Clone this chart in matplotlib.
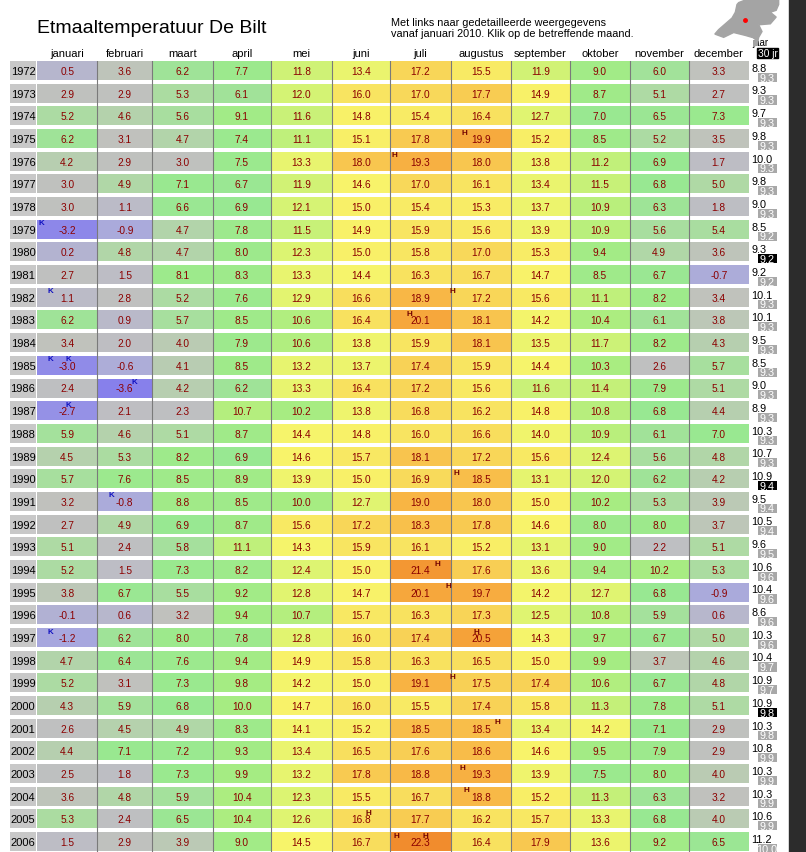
import numpy as np
import matplotlib
matplotlib.use("Agg")
import matplotlib.pyplot as plt
from matplotlib.colors import LinearSegmentedColormap, Normalize
from matplotlib.patches import Rectangle, Polygon

plt.rcParams['font.family'] = ['Liberation Sans Narrow', 'Liberation Sans', 'DejaVu Sans']

years = list(range(1972, 2007))
maanden = ["januari", "februari", "maart", "april", "mei", "juni", "juli",
           "augustus", "september", "oktober", "november", "december"]
dagen = [31, 28, 31, 30, 31, 30, 31, 31, 30, 31, 30, 31]

# maandgemiddelden per maand, 1972..2006
jan = [0.5, 2.9, 5.2, 6.2, 4.2, 3.0, 3.0, -3.2, 0.2, 2.7, 1.1, 6.2, 3.4, -3.0, 2.4, -2.7, 5.9, 4.5,
       5.7, 3.2, 2.7, 5.1, 5.2, 3.8, -0.1, -1.2, 4.7, 5.2, 4.3, 2.6, 4.4, 2.5, 3.6, 5.3, 1.5]
feb = [3.6, 2.9, 4.6, 3.1, 2.9, 4.9, 1.1, -0.9, 4.8, 1.5, 2.8, 0.9, 2.0, -0.6, -3.6, 2.1, 4.6, 5.3,
       7.6, -0.8, 4.9, 2.4, 1.5, 6.7, 0.6, 6.2, 6.4, 3.1, 5.9, 4.5, 7.1, 1.8, 4.8, 2.4, 2.9]
mrt = [6.2, 5.3, 5.6, 4.7, 3.0, 7.1, 6.6, 4.7, 4.7, 8.1, 5.2, 5.7, 4.0, 4.1, 4.2, 2.3, 5.1, 8.2,
       8.5, 8.8, 6.9, 5.8, 7.3, 5.5, 3.2, 8.0, 7.6, 7.3, 6.8, 4.9, 7.2, 7.3, 5.9, 6.5, 3.9]
apr = [7.7, 6.1, 9.1, 7.4, 7.5, 6.7, 6.9, 7.8, 8.0, 8.3, 7.6, 8.5, 7.9, 8.5, 6.2, 10.7, 8.7, 6.9,
       8.9, 8.5, 8.7, 11.1, 8.2, 9.2, 9.4, 7.8, 9.4, 9.8, 10.0, 8.3, 9.3, 9.9, 10.4, 10.4, 9.0]
mei = [11.8, 12.0, 11.6, 11.1, 13.3, 11.9, 12.1, 11.5, 12.3, 13.3, 12.9, 10.6, 10.6, 13.2, 13.3, 10.2, 14.4, 14.6,
       13.9, 10.0, 15.6, 14.3, 12.4, 12.8, 10.7, 12.8, 14.9, 14.2, 14.7, 14.1, 13.4, 13.2, 12.3, 12.6, 14.5]
jun = [13.4, 16.0, 14.8, 15.1, 18.0, 14.6, 15.0, 14.9, 15.0, 14.4, 16.6, 16.4, 13.8, 13.7, 16.4, 13.8, 14.8, 15.7,
       15.0, 12.7, 17.2, 15.9, 15.0, 14.7, 15.7, 16.0, 15.8, 15.0, 16.0, 15.2, 16.5, 17.8, 15.5, 16.8, 16.7]
jul = [17.2, 17.0, 15.4, 17.8, 19.3, 17.0, 15.4, 15.9, 15.8, 16.3, 18.9, 20.1, 15.9, 17.4, 17.2, 16.8, 16.0, 18.1,
       16.9, 19.0, 18.3, 16.1, 21.4, 20.1, 16.3, 17.4, 16.3, 19.1, 15.5, 18.5, 17.6, 18.8, 16.7, 17.7, 22.3]
aug = [15.5, 17.7, 16.4, 19.9, 18.0, 16.1, 15.3, 15.6, 17.0, 16.7, 17.2, 18.1, 18.1, 15.9, 15.6, 16.2, 16.6, 17.2,
       18.5, 18.0, 17.8, 15.2, 17.6, 19.7, 17.3, 20.5, 16.5, 17.5, 17.4, 18.5, 18.6, 19.3, 18.8, 16.2, 16.4]
sep = [11.9, 14.9, 12.7, 15.2, 13.8, 13.4, 13.7, 13.9, 15.3, 14.7, 15.6, 14.2, 13.5, 14.4, 11.6, 14.8, 14.0, 15.6,
       13.1, 15.0, 14.6, 13.1, 13.6, 14.2, 12.5, 14.3, 15.0, 17.4, 15.8, 13.4, 14.6, 13.9, 15.2, 15.7, 17.9]
okt = [9.0, 8.7, 7.0, 8.5, 11.2, 11.5, 10.9, 10.9, 9.4, 8.5, 11.1, 10.4, 11.7, 10.3, 11.4, 10.8, 10.9, 12.4,
       12.0, 10.2, 8.0, 9.0, 9.4, 12.7, 10.8, 9.7, 9.9, 10.6, 11.3, 14.2, 9.5, 7.5, 11.3, 13.3, 13.6]
nov = [6.0, 5.1, 6.5, 5.2, 6.9, 6.8, 6.3, 5.6, 4.9, 6.7, 8.2, 6.1, 8.2, 2.6, 7.9, 6.8, 6.1, 5.6,
       6.2, 5.3, 8.0, 2.2, 10.2, 6.8, 5.9, 6.7, 3.7, 6.7, 7.8, 7.1, 7.9, 8.0, 6.3, 6.8, 9.2]
dec = [3.3, 2.7, 7.3, 3.5, 1.7, 5.0, 1.8, 5.4, 3.6, -0.7, 3.4, 3.8, 4.3, 5.7, 5.1, 4.4, 7.0, 4.8,
       4.2, 3.9, 3.7, 5.1, 5.3, -0.9, 0.6, 5.0, 4.6, 4.8, 5.1, 2.9, 2.9, 4.0, 3.2, 4.0, 6.5]

jaar = [8.8, 9.3, 9.7, 9.8, 10.0, 9.8, 9.0, 8.5, 9.3, 9.2, 10.1, 10.1, 9.5, 8.5, 9.0, 8.9, 10.3, 10.7,
        10.9, 9.5, 10.5, 9.6, 10.6, 10.4, 8.6, 10.3, 10.4, 10.9, 10.9, 10.3, 10.8, 10.3, 10.3, 10.6, 11.2]
normaal = [9.3, 9.3, 9.3, 9.3, 9.3, 9.3, 9.3, 9.2, 9.2, 9.2, 9.3, 9.3, 9.3, 9.3, 9.3, 9.3, 9.3, 9.3,
           9.4, 9.4, 9.4, 9.5, 9.6, 9.6, 9.6, 9.6, 9.7, 9.7, 9.8, 9.8, 9.9, 9.9, 9.9, 9.9, 10.0]
normaal_zwart = [1980, 1990, 2000]

# koude- (K) en hittegolven (H): jaar en dag van het jaar
koude_jaar = [1979, 1982, 1985, 1985, 1986, 1987, 1991, 1997]
koude_dag = [2, 7, 7, 16, 50, 16, 38, 7]
hitte_jaar = [1975, 1976, 1982, 1983, 1990, 1994, 1995, 1997, 1999, 2001, 2003, 2004, 2005, 2006, 2006]
hitte_dag = [219, 183, 213, 191, 215, 205, 211, 225, 213, 236, 218, 220, 170, 184, 199]

waarden = np.array([jan, feb, mrt, apr, mei, jun, jul, aug, sep, okt, nov, dec]).T

cmap = LinearSegmentedColormap.from_list("etmaal", [
    (0.00, "#7468f0"), (0.12, "#a4a4e2"), (0.22, "#bcbcc6"), (0.30, "#c0c2bc"),
    (0.36, "#aedaa4"), (0.42, "#98e892"), (0.54, "#a6ec82"), (0.62, "#dcf472"),
    (0.70, "#f8f46a"), (0.78, "#f8dc5c"), (0.86, "#f8b444"), (1.00, "#f08428")])
norm = Normalize(vmin=-5, vmax=23)

W, H = 806, 853
pitch = 22.68
h = 19 / pitch
nrow = len(years)
ytop = 62

fig = plt.figure(figsize=(W / 100, H / 100), dpi=100)
fig.patch.set_facecolor("white")
fig.add_artist(Rectangle((789 / W, 0), 17 / W, 1, transform=fig.transFigure,
                         color="#2c2c2c", zorder=0))

ax_h = (H - ytop) / H
ax = fig.add_axes([37 / W, 0, 712 / W, ax_h])
ax.set_xlim(0, sum(dagen))
ax.set_ylim((H - ytop) / pitch, 0)
ax.axis("off")

starts = np.concatenate([[0], np.cumsum(dagen)[:-1]])
for i, yr in enumerate(years):
    kleuren = cmap(norm(waarden[i]))
    ax.barh(i + h / 2, dagen, left=starts, height=h, color=kleuren, linewidth=0)
    for m in range(12):
        ax.text(starts[m] + dagen[m] / 2, i + h / 2 + 0.02, f"{waarden[i, m]:.1f}",
                ha="center", va="center", fontsize=7.3, color="#8b0000")

for s in starts[1:]:
    ax.axvline(s, color="#7a7a7a", lw=0.8, zorder=3)

for yr, d in zip(koude_jaar, koude_dag):
    ax.text(d, years.index(yr) - 0.02, "K", ha="center", va="top", fontsize=5.8,
            color="#1010c0", fontweight="bold", zorder=4)
for yr, d in zip(hitte_jaar, hitte_dag):
    ax.text(d, years.index(yr) - 0.02, "H", ha="center", va="top", fontsize=5.8,
            color="#700000", fontweight="bold", zorder=4)

# maandnamen boven de tabel
for m, naam in enumerate(maanden):
    ax.text(starts[m] + dagen[m] / 2, -0.36, naam, ha="center", va="center",
            fontsize=8, color="black", clip_on=False)

# jaartallen links
ax_y = fig.add_axes([10 / W, 0, 26 / W, ax_h], sharey=ax)
ax_y.set_xlim(0, 1)
ax_y.axis("off")
ax_y.barh(np.arange(nrow) + h / 2, 1, height=h, color="#c8c8c8", linewidth=0)
for i, yr in enumerate(years):
    ax_y.text(0.5, i + h / 2 + 0.02, str(yr), ha="center", va="center", fontsize=8,
              family=["Liberation Sans", "DejaVu Sans"])

# jaargemiddelde en 30-jarig gemiddelde rechts
ax_r = fig.add_axes([749 / W, 0, 40 / W, ax_h], sharey=ax)
ax_r.set_xlim(0, 40)
ax_r.axis("off")
box_kleur = ["black" if yr in normaal_zwart else "#a8a8a8" for yr in years]
ax_r.barh(np.arange(nrow) + 0.72, 19, left=8.5, height=0.4, color=box_kleur, linewidth=0)
for i, yr in enumerate(years):
    ax_r.text(2, i + 0.08, f"{jaar[i]:.1f}", ha="left", va="top", fontsize=7.8)
    ax_r.text(18, i + 0.73, f"{normaal[i]:.1f}", ha="center", va="center",
              fontsize=7.8, color="white")
ax_r.text(3, -0.6, "jaar", ha="left", va="bottom", fontsize=7, clip_on=False)
ax_r.add_patch(Rectangle((8, -0.56), 21, 0.42, color="black", clip_on=False))
ax_r.text(18.5, -0.35, "30 jr", ha="center", va="center", fontsize=7.3,
          color="white", clip_on=False)

# titel
fig.text(37 / W, 1 - 33 / H, "Etmaaltemperatuur De Bilt", fontsize=14, va="baseline")
fig.text(391 / W, 1 - 26 / H, "Met links naar gedetailleerde weergegevens", fontsize=7.8,
         va="baseline")
fig.text(391 / W, 1 - 37 / H, "vanaf januari 2010. Klik op de betreffende maand.",
         fontsize=7.8, va="baseline")

# kaartje Nederland
ax_k = fig.add_axes([712 / W, 1 - 48 / H, 70 / W, 56 / H])
ax_k.set_xlim(3.2, 7.4)
ax_k.set_ylim(50.7, 53.6)
ax_k.axis("off")
nl = [(3.37, 51.37), (3.6, 51.6), (4.0, 51.9), (4.4, 52.2), (4.6, 52.5), (4.7, 52.9),
      (4.8, 53.0), (5.4, 53.2), (6.0, 53.45), (6.8, 53.45), (7.2, 53.2), (7.2, 52.9),
      (7.05, 52.6), (6.7, 52.5), (7.05, 52.25), (6.7, 51.9), (6.0, 51.85), (6.2, 51.5),
      (6.0, 51.2), (5.9, 50.8), (5.7, 50.75), (5.8, 51.15), (5.2, 51.3), (4.5, 51.45),
      (3.9, 51.2)]
ax_k.add_patch(Polygon(nl, closed=True, color="#a4a4a4"))
ax_k.plot([5.18], [52.1], "o", color="red", ms=2.5)

fig.savefig("out.png", dpi=100)
